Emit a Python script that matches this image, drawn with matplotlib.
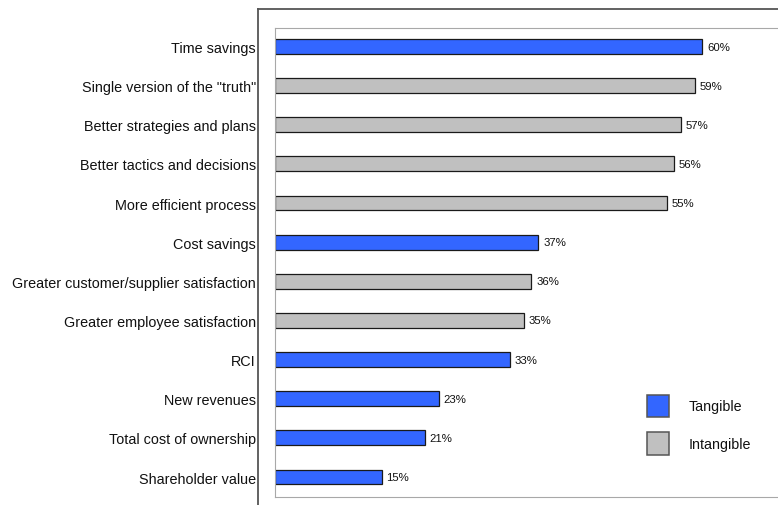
import matplotlib
matplotlib.use("Agg")
import matplotlib.pyplot as plt
from matplotlib.patches import Patch
from matplotlib.lines import Line2D

categories = ["Time savings", "Single version of the \"truth\"", "Better strategies and plans",
              "Better tactics and decisions", "More efficient process", "Cost savings",
              "Greater customer/supplier satisfaction", "Greater employee satisfaction", "RCI",
              "New revenues", "Total cost of ownership", "Shareholder value"]
values = [60, 59, 57, 56, 55, 37, 36, 35, 33, 23, 21, 15]
kinds = ["Tangible", "Intangible", "Intangible", "Intangible", "Intangible", "Tangible",
         "Intangible", "Intangible", "Tangible", "Tangible", "Tangible", "Tangible"]
value_labels = [f"{v}%" for v in values]
legend_labels = ["Tangible", "Intangible"]

colors = {"Tangible": "#3366FF", "Intangible": "#C0C0C0"}

plt.rcParams['font.family'] = ['Liberation Sans', 'DejaVu Sans']

W, H = 778, 506
fig = plt.figure(figsize=(W / 100, H / 100), dpi=100)
fig.patch.set_facecolor("white")

ax_left, ax_top, ax_bottom = 275, 29, 497.7
ax = fig.add_axes([ax_left / W, 1 - ax_bottom / H, (W - ax_left) / W, (ax_bottom - ax_top) / H])

pos = list(range(len(categories)))
bars = ax.barh(pos, values, height=0.38,
               color=[colors[k] for k in kinds], edgecolor="#1a1a1a", linewidth=0.9)
ax.bar_label(bars, labels=value_labels, padding=3.4, fontsize=8.2, color="#111111")

ax.set_ylim(11.503, -0.473)
ax.set_xlim(0, (W - ax_left) / 7.12)
ax.set_yticks(pos)
ax.set_yticklabels(categories, fontsize=10.4, color="#111111")
ax.tick_params(axis="y", length=0, pad=13.7)
ax.set_xticks([])
for s in ["left", "top", "bottom"]:
    ax.spines[s].set_color("#a8a8a8")
    ax.spines[s].set_linewidth(0.8)
ax.spines["right"].set_visible(False)

# outer frame
fig.add_artist(Line2D([258 / W, 258 / W], [0, 1 - 10 / H], transform=fig.transFigure,
                      color="#555555", linewidth=1.3, solid_capstyle="projecting"))
fig.add_artist(Line2D([258 / W, 1], [1 - 10 / H, 1 - 10 / H], transform=fig.transFigure,
                      color="#555555", linewidth=1.3, solid_capstyle="projecting"))

handles = [Patch(facecolor=colors[k], edgecolor="#555555", linewidth=1.1) for k in legend_labels]
fs = 10.3
fs_px = fs * 100 / 72
box_px = 22.5
hh = (box_px / fs_px - 0.245) / 0.65
leg = ax.legend(handles, legend_labels, loc="upper left",
                bbox_to_anchor=(646.7 / W, 1 - 395.7 / H), bbox_transform=fig.transFigure,
                frameon=False, fontsize=fs, borderpad=0, borderaxespad=0,
                handlelength=22.5 / fs_px, handleheight=hh,
                labelspacing=15.1 / fs_px, handletextpad=19 / fs_px)
for t in leg.get_texts():
    t.set_color("#111111")

fig.savefig("out.png", dpi=100)
